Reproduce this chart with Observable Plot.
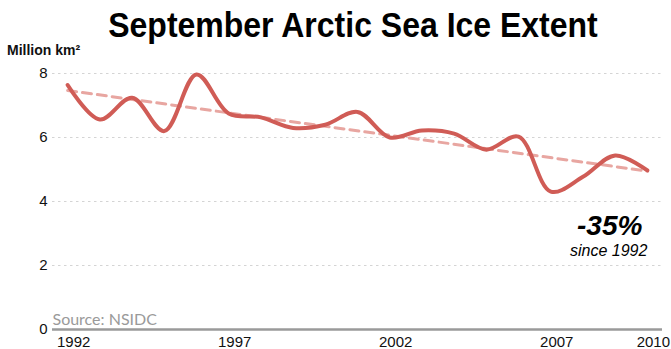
<!DOCTYPE html>
<html>
<head>
<meta charset="utf-8">
<script src="https://cdn.jsdelivr.net/npm/d3@7"></script>
<script src="https://cdn.jsdelivr.net/npm/@observablehq/plot@0.6"></script>
<style>
  html, body { margin: 0; padding: 0; background: #fff; }
  #wrap { position: relative; width: 671px; height: 349px; overflow: hidden; font-family: "Liberation Sans", Arial, sans-serif; }
  #title { position: absolute; left: 352.5px; top: 5px; transform: translateX(-50%) scaleX(0.914); white-space: nowrap; font-family: "Liberation Sans", Arial, sans-serif; font-weight: bold; font-size: 35px; color: #000; line-height: 40px; }
  #unit { position: absolute; left: 7px; top: 42px; font-weight: bold; font-size: 14px; color: #111; }
  #chart { position: absolute; left: 0; top: 0; }
</style>
</head>
<body>
<div id="wrap">
  <div id="chart"></div>
  <div id="title">September Arctic Sea Ice Extent</div>
  <div id="unit">Million km²</div>
</div>
<script>
const years = [1992,1993,1994,1995,1996,1997,1998,1999,2000,2001,2002,2003,2004,2005,2006,2007,2008,2009,2010];
const extent = [7.64,6.56,7.24,6.2,7.97,6.75,6.63,6.3,6.4,6.8,6.0,6.22,6.12,5.62,6.03,4.31,4.77,5.44,4.97];
const trendYears = [1992, 2010];
const trendValues = [7.47, 4.95];
const yTicks = [0, 2, 4, 6, 8];
const xTicks = [1992, 1997, 2002, 2007, 2010];
const changeLabel = "-35%";
const sinceLabel = "since 1992";
const sourceLabel = "Source: NSIDC";

const data = years.map((y, i) => ({year: y, value: extent[i]}));
const trend = trendYears.map((y, i) => ({year: y, value: trendValues[i]}));

const chart = Plot.plot({
  width: 671,
  height: 349,
  marginTop: 73,
  marginBottom: 20,
  marginLeft: 52,
  marginRight: 9,
  style: {fontFamily: "'Liberation Sans', Arial, sans-serif", background: "transparent", color: "#111"},
  x: {domain: [1991.53, 2010.47]},
  y: {domain: [0, 8]},
  marks: [
    Plot.gridY(yTicks.filter(d => d > 0), {stroke: "#d4d4d4", strokeOpacity: 1, strokeDasharray: "2.5,3.5", strokeWidth: 1}),
    Plot.axisY(yTicks, {tickSize: 0, tickPadding: 5, fontSize: 15, label: null, tickFormat: d => String(d)}),
    Plot.axisX(xTicks, {tickSize: 0, tickPadding: 7, fontSize: 15, label: null, tickFormat: d => String(d), dx: 6}),
    Plot.ruleY([0], {stroke: "#9a9a9a", strokeWidth: 2.6}),
    Plot.line(trend, {x: "year", y: "value", stroke: "#e8a6a1", strokeWidth: 3, strokeDasharray: "9,6"}),
    Plot.line(data, {x: "year", y: "value", stroke: "#d05c56", strokeWidth: 4, curve: "catmull-rom"}),
    Plot.text([sourceLabel], {x: () => 1991.53, y: () => 0.13, text: d => d, textAnchor: "start", lineAnchor: "bottom", fontSize: 16, fill: "#9a9a9a", fontFamily: "Lato, sans-serif"}),
    Plot.text([changeLabel], {x: () => 2010, y: () => 2.95, text: d => d, textAnchor: "end", lineAnchor: "bottom", dx: -5, fontSize: 28, fontWeight: "bold", fontStyle: "italic", fill: "#000"}),
    Plot.text([sinceLabel], {x: () => 2010, y: () => 2.3, text: d => d, textAnchor: "end", lineAnchor: "bottom", dx: 0, fontSize: 16, fontStyle: "italic", fill: "#000"})
  ]
});
document.getElementById("chart").appendChild(chart);
</script>
</body>
</html>
